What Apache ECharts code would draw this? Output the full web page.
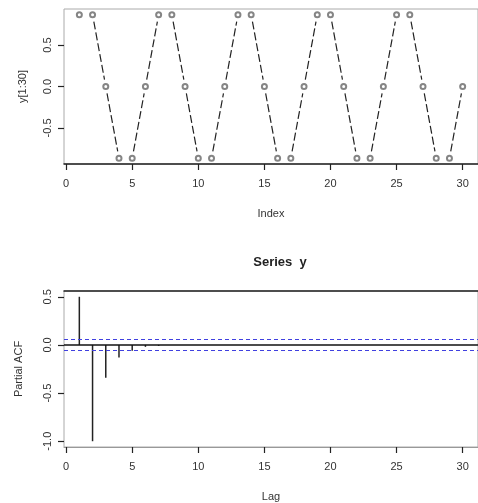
<!DOCTYPE html>
<html>
<head>
<meta charset="utf-8">
<script src="https://cdn.jsdelivr.net/npm/echarts@6/dist/echarts.min.js"></script>
<style>html,body{margin:0;padding:0;background:#fff}#c{width:478px;height:503px}</style>
</head>
<body>
<div id="c"></div>
<script>
// ---- data ----
const indexValues = [1,2,3,4,5,6,7,8,9,10,11,12,13,14,15,16,17,18,19,20,21,22,23,24,25,26,27,28,29,30];
const yValues = [0.866,0.866,0,-0.866,-0.866,0,0.866,0.866,0,-0.866,-0.866,0,0.866,0.866,0,-0.866,-0.866,0,0.866,0.866,0,-0.866,-0.866,0,0.866,0.866,0,-0.866,-0.866,0];
const lags = [1,2,3,4,5,6,7,8,9,10,11,12,13,14,15,16,17,18,19,20,21,22,23,24,25,26,27,28,29,30];
const pacfValues = [0.50,-1.00,-0.34,-0.13,-0.06,-0.02,-0.01,0,0,0,0,0,0,0,0,0,0,0,0,0,0,0,0,0,0,0,0,0,0,0];
const ciLevels = [0.062, -0.062];
const xTicks = [0,5,10,15,20,25,30];
const yTicksTop = [-0.5,0,0.5];
const yTicksBottom = [-1.0,-0.5,0,0.5];
const titleText = 'Series  y';

const FONT = '"Liberation Sans", Arial, sans-serif';
const chart = echarts.init(document.getElementById('c'), null, {renderer:'canvas'});

// segments between consecutive points (R type="b": lines with gaps at points)
const segments = [];
for (let i = 0; i < indexValues.length - 1; i++) {
  segments.push([indexValues[i], yValues[i], indexValues[i+1], yValues[i+1]]);
}

function xAxisCfg(gridIndex, name, dark) {
  return {
    type:'value', gridIndex, min:-0.16, max:31.16,
    name, nameLocation:'middle', nameGap:44,
    nameTextStyle:{fontFamily:FONT, fontSize:11, color:'#333'},
    axisLine:{show:true, onZero:false, lineStyle:{color: dark ? '#222' : '#999', width: dark ? 1.5 : 1}},
    axisTick:{show:true, length:6, customValues:xTicks, lineStyle:{color:'#222', width:1.2}},
    axisLabel:{show:true, customValues:xTicks, margin:14, fontFamily:FONT, fontSize:11, color:'#333'},
    splitLine:{show:false}
  };
}
function yAxisCfg(gridIndex, name, min, max, ticks, gap) {
  return {
    type:'value', gridIndex, min, max,
    name, nameLocation:'middle', nameGap:gap, nameRotate:90,
    nameTextStyle:{fontFamily:FONT, fontSize:11, color:'#333'},
    axisLine:{show:false, onZero:false},
    axisTick:{show:true, length:6, customValues:ticks, lineStyle:{color:'#222', width:1.2}},
    axisLabel:{show:true, customValues:ticks, rotate:90, margin:11, fontFamily:FONT, fontSize:11, color:'#333',
      formatter: v => Number(v).toFixed(1)},
    splitLine:{show:false}
  };
}

const GAP = 7;
const option = {
  backgroundColor:'#fff',
  animation:false,
  title:{text:titleText, left:275, top:251, textAlign:'center',
    textStyle:{fontFamily:FONT, fontSize:13, fontWeight:'bold', color:'#222'}},
  grid:[
    {left:64, top:9, width:422, height:155, show:true, borderColor:'#aaa', borderWidth:1, containLabel:false},
    {left:64, top:291, width:422, height:156, show:true, borderColor:'#aaa', borderWidth:1, containLabel:false}
  ],
  xAxis:[
    xAxisCfg(0,'Index',true),
    xAxisCfg(1,'Lag',false),
    {type:'value', gridIndex:1, position:'top', min:-0.16, max:31.16,
     axisLine:{show:true, onZero:false, lineStyle:{color:'#222', width:1.5}}, axisTick:{show:false}, axisLabel:{show:false}, splitLine:{show:false}}
  ],
  yAxis:[
    yAxisCfg(0,'y[1:30]',-0.935,0.935,yTicksTop,36),
    yAxisCfg(1,'Partial ACF',-1.06,0.56,yTicksBottom,40)
  ],
  series:[
    {type:'custom', xAxisIndex:0, yAxisIndex:0, data:segments,
     encode:{x:[0,2], y:[1,3]},
     renderItem:function(params, api){
       const p0 = api.coord([api.value(0), api.value(1)]);
       const p1 = api.coord([api.value(2), api.value(3)]);
       const dx = p1[0]-p0[0], dy = p1[1]-p0[1];
       const len = Math.sqrt(dx*dx+dy*dy);
       if (len <= 2*GAP) return {type:'group', children:[]};
       const ux = dx/len, uy = dy/len;
       return {type:'line', shape:{x1:p0[0]+ux*GAP, y1:p0[1]+uy*GAP, x2:p1[0]-ux*GAP, y2:p1[1]-uy*GAP},
         style:{stroke:'#222', lineWidth:1.2, lineDash:[8,3], fill:null}};
     }},
    {type:'scatter', xAxisIndex:0, yAxisIndex:0,
     data: indexValues.map((x,i)=>[x,yValues[i]]),
     symbol:'emptyCircle', symbolSize:5,
     itemStyle:{color:'#666', borderColor:'#666', borderWidth:0.8}},
    {type:'bar', xAxisIndex:1, yAxisIndex:1,
     data: lags.map((x,i)=>[x,pacfValues[i]]),
     barWidth:1.5,
     itemStyle:{color:'#222'},
     markLine:{silent:true, symbol:'none', label:{show:false},
       lineStyle:{color:'#111', width:1.5, type:'solid'},
       data:[{yAxis:0}]}},
    {type:'line', xAxisIndex:1, yAxisIndex:1, data:[], color:'#4040e0',
     markLine:{silent:true, symbol:'none', label:{show:false},
       lineStyle:{color:'#4040e0', width:1, type:[4,3], opacity:1},
       data: ciLevels.map(v => ({yAxis:v}))}}
  ]
};
chart.setOption(option);
</script>
</body>
</html>
